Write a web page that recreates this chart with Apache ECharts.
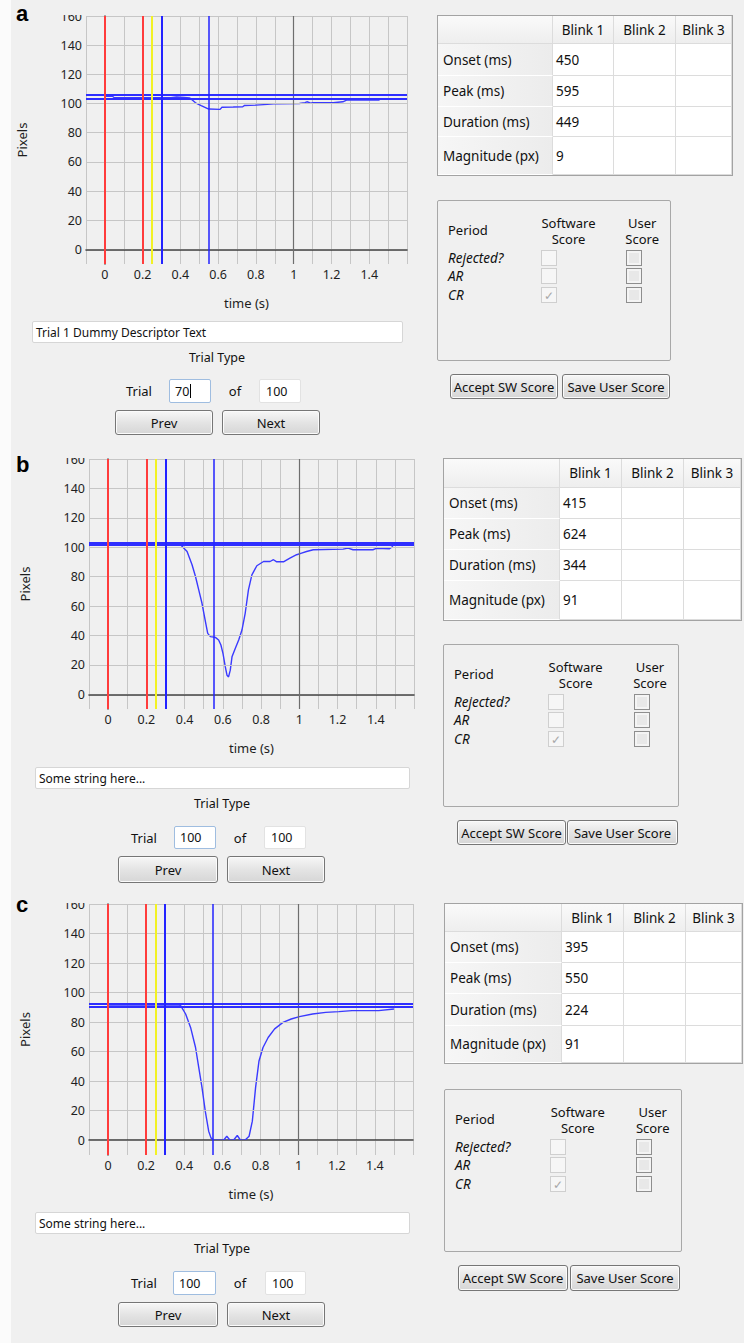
<!DOCTYPE html>
<html><head><meta charset="utf-8">
<script src="https://cdn.jsdelivr.net/npm/echarts@6/dist/echarts.min.js"></script>
<style>
html,body{margin:0;padding:0;}
body{width:744px;height:1343px;background:#f0f0f0;position:relative;overflow:hidden;font-family:'Noto Sans',sans-serif;color:#111;}
#strip{position:absolute;left:0;top:0;width:11px;height:1343px;background:#fbfbfb;}
#chart{position:absolute;left:0;top:0;width:744px;height:1343px;}
#ui{position:absolute;left:0;top:0;width:744px;height:1343px;pointer-events:none;}
.abs{position:absolute;box-sizing:border-box;white-space:nowrap;}
.lbl{font-size:13px;line-height:20px;height:20px;}
.btn{border:1px solid #767676;border-radius:3px;background:linear-gradient(#f7f7f7,#e4e4e4 50%,#d6d6d6);font-size:13px;display:flex;align-items:center;justify-content:center;box-shadow:inset 0 0 0 1px #fbfbfb;}
.field{background:#fff;border:1px solid #d6d6d6;border-radius:2px;font-size:12px;display:flex;align-items:center;padding-left:3px;}
.cell{border-right:1px solid #dcdcdc;border-bottom:1px solid #dcdcdc;font-size:13.5px;display:flex;align-items:center;}
.cb{width:16px;height:16px;font-size:12px;display:flex;align-items:center;justify-content:center;}
.cbsw{border:1px solid #cfcfcf;background:#f6f6f6;color:#a8a8a8;}
.cbuser{border:1px solid #8e8e8e;background:#e8e8e8;box-shadow:inset 0 0 0 2px #f4f4f4;}
.letter{font-family:'Liberation Sans',Arial,sans-serif;font-weight:bold;font-size:22px;line-height:22px;color:#000;}
</style></head><body>
<div id="strip"></div>
<div id="chart"></div>
<div id="ui"></div>
<script>
// ---------------- data ----------------
const panelLetters = ['a', 'b', 'c'];
const xTickLabels = [0, 0.2, 0.4, 0.6, 0.8, 1, 1.2, 1.4];
const yTickLabels = [0, 20, 40, 60, 80, 100, 120, 140, 160];
const redMarkers = [0, 0.2];
const yellowMarkers = [0.25];
const blueMarkers = [0.3, 0.55];

const baselineA = [105.8, 103.1];
const baselineB = [101.8, 102.9];
const baselineC = [90.2, 92.2];

const traceAX = [0, 0.04, 0.05, 0.35, 0.38, 0.42, 0.45, 0.48, 0.51, 0.55, 0.61, 0.62, 0.68, 0.73, 0.74, 0.80, 0.86, 0.91, 1.03, 1.06, 1.07, 1.09, 1.10, 1.21, 1.26, 1.28, 1.45, 1.46, 1.5];
const traceAY = [105, 105, 104, 104, 104.5, 104.1, 103.8, 100.5, 98.6, 96.2, 96, 97.4, 97.6, 97.8, 98.7, 98.9, 99.4, 99.9, 100.0, 100.6, 101.2, 100.3, 100.5, 100.5, 101.2, 102.4, 102.4, 103.1, 103.2];

const traceBX = [0, 0.37, 0.379, 0.413, 0.439, 0.457, 0.474, 0.491, 0.509, 0.521, 0.535, 0.561, 0.578, 0.590, 0.601, 0.613, 0.622, 0.630, 0.639, 0.648, 0.665, 0.683, 0.700, 0.717, 0.734, 0.752, 0.778, 0.813, 0.847, 0.865, 0.882, 0.917, 0.951, 0.986, 1.012, 1.038, 1.073, 1.229, 1.255, 1.281, 1.385, 1.403, 1.472, 1.49];
const traceBY = [102.3, 102.3, 101.7, 97.1, 88.1, 80.1, 71.0, 61.9, 49.4, 41.4, 39.2, 38.7, 36.9, 33.5, 27.7, 18.6, 12.9, 11.8, 16.4, 25.5, 31.2, 36.9, 43.7, 55.1, 71.0, 81.2, 87.4, 90.3, 90.3, 91.5, 90.1, 90.1, 92.6, 94.9, 96.0, 97.1, 98.3, 98.7, 99.4, 98.3, 98.3, 99.2, 99.0, 100.6];

const traceCX = [0, 0.37, 0.381, 0.407, 0.433, 0.459, 0.476, 0.493, 0.51, 0.528, 0.54, 0.554, 0.606, 0.623, 0.64, 0.658, 0.678, 0.695, 0.718, 0.74, 0.757, 0.774, 0.792, 0.813, 0.84, 0.874, 0.918, 0.961, 1.004, 1.073, 1.142, 1.211, 1.28, 1.42, 1.5];
const traceCY = [91, 91, 91.2, 85.5, 76.4, 62.8, 49.2, 35.6, 19.7, 6.1, 1.6, 0, 0, 2.7, 0, 0, 3.2, 0, 0, 2.7, 12.9, 35.6, 53.7, 62.8, 69.6, 75.4, 79.8, 82.1, 83.7, 85.5, 86.6, 87.1, 87.8, 87.8, 88.9];

const rowLabels = ['Onset (ms)', 'Peak (ms)', 'Duration (ms)', 'Magnitude (px)'];
const colLabels = ['Blink 1', 'Blink 2', 'Blink 3'];
const blink1A = [450, 595, 449, 9];
const blink1B = [415, 624, 344, 91];
const blink1C = [395, 550, 224, 91];

const periodLabels = ['Rejected?', 'AR', 'CR'];
const softwareScore = [false, false, true];
const userScore = [false, false, false];

const descriptorTexts = ['Trial 1 Dummy Descriptor Text', 'Some string here...', 'Some string here...'];
const trialNumbers = ['70', '100', '100'];
const trialTotals = ['100', '100', '100'];

// ---------------- layout ----------------
const layouts = [
  { labelTop: 3, grid: {left: 86, top: 16, width: 321, height: 248}, clip: {x: 50, y: 0, w: 36, h: 15},
    field: {x: 32, y: 321, w: 371, h: 22}, trialType: {cx: 217, cy: 358},
    trialRow: {y: 379, h: 24, trialCx: 139, box1: [169, 42], ofCx: 235, box2: [259, 42]},
    nav: {y: 410, h: 25, prev: [115, 98], next: [222, 98]},
    table: {x: 437, y: 15, cols: [115, 61, 62, 58], rows: [28, 32, 31, 30, 40]},
    group: {x: 437, y: 200, w: 234, h: 161},
    actions: {y: 374, h: 25, accept: [450, 108], save: [562, 108]} },
  { labelTop: 454, grid: {left: 89, top: 459, width: 325, height: 250}, clip: {x: 50, y: 440, w: 39, h: 18},
    field: {x: 35, y: 767, w: 375, h: 22}, trialType: {cx: 222, cy: 804},
    trialRow: {y: 826, h: 23, trialCx: 144, box1: [174, 42], ofCx: 240, box2: [264, 42]},
    nav: {y: 856, h: 27, prev: [118, 100], next: [227, 98]},
    table: {x: 443, y: 458, cols: [116, 62, 62, 59], rows: [29, 31, 31, 31, 41]},
    group: {x: 443, y: 644, w: 236, h: 163},
    actions: {y: 820, h: 25, accept: [457, 109], save: [567, 111]} },
  { labelTop: 894, grid: {left: 89, top: 904, width: 324, height: 251}, clip: {x: 50, y: 885, w: 39, h: 18},
    field: {x: 35, y: 1212, w: 375, h: 22}, trialType: {cx: 222, cy: 1249},
    trialRow: {y: 1271, h: 24, trialCx: 144, box1: [173, 43], ofCx: 240, box2: [265, 41]},
    nav: {y: 1302, h: 25, prev: [118, 100], next: [227, 98]},
    table: {x: 444, y: 903, cols: [117, 62, 62, 58], rows: [28, 31, 31, 32, 39]},
    group: {x: 444, y: 1089, w: 238, h: 163},
    actions: {y: 1265, h: 26, accept: [458, 110], save: [570, 110]} }
];

// ---------------- chart ----------------
const traces = [[traceAX, traceAY], [traceBX, traceBY], [traceCX, traceCY]];
const baselines = [baselineA, baselineB, baselineC];
const round1 = v => Math.round(v * 10) / 10;

const grids = [], xAxes = [], yAxes = [], series = [];
layouts.forEach((L, i) => {
  grids.push(Object.assign({containLabel: false}, L.grid));
  xAxes.push({
    type: 'value', gridIndex: i, min: -0.1, max: 1.6, interval: 0.1,
    axisLine: {lineStyle: {color: '#3c3c3c', width: 1.5}},
    axisTick: {show: false},
    splitLine: {show: true, lineStyle: {color: '#c6c6c6', width: 1}},
    axisLabel: {margin: 4, fontSize: 12.5, color: '#1e1e1e', fontFamily: 'Noto Sans',
      formatter: v => xTickLabels.indexOf(round1(v)) >= 0 ? String(round1(v)) : ''},
    name: 'time (s)', nameLocation: 'middle', nameGap: 32,
    nameTextStyle: {fontSize: 13, color: '#1e1e1e', fontFamily: 'Noto Sans'}
  });
  yAxes.push({
    type: 'value', gridIndex: i, min: -10, max: 160, interval: 10,
    axisLine: {show: true, lineStyle: {color: '#3c3c3c', width: 1.5}},
    axisTick: {show: false},
    splitLine: {show: false},
    axisLabel: {margin: 4, fontSize: 12.5, color: '#1e1e1e', fontFamily: 'Noto Sans',
      formatter: v => yTickLabels.indexOf(Math.round(v)) >= 0 ? String(Math.round(v)) : ''},
    name: 'Pixels', nameLocation: 'middle', nameGap: 58,
    nameTextStyle: {fontSize: 13, color: '#1e1e1e', fontFamily: 'Noto Sans'}
  });
  const mk = (data, color, width, z) => ({
    type: 'line', data: [], xAxisIndex: i, yAxisIndex: i, z: z, silent: true,
    markLine: {silent: true, symbol: ['none', 'none'], label: {show: false}, animation: false,
      emphasis: {disabled: true}, lineStyle: {type: 'solid', color: color, width: width}, data: data}
  });
  series.push(mk(yTickLabels.filter(v => v !== 0).map(v => ({yAxis: v})), '#c6c6c6', 1, 1));
  series.push(mk([{yAxis: 0}, {xAxis: 1}], '#6e6e6e', 1.2, 1));
  series.push(mk(baselines[i].map(v => ({yAxis: v})), '#2e2eff', 1.8, 2));
  series.push(mk(redMarkers.map(v => ({xAxis: v})), '#ff3c3c', 2, 3));
  series.push(mk(yellowMarkers.map(v => ({xAxis: v})), '#f2f224', 2, 3));
  series.push(mk(blueMarkers.map((v, k) => ({xAxis: v, lineStyle: {width: k === 0 ? 2 : 1.5}})), '#2323ff', 2, 3));
  series.push({
    type: 'line', xAxisIndex: i, yAxisIndex: i, z: 4, silent: true, showSymbol: false, symbol: 'none',
    lineStyle: {color: '#3a3aff', width: 1.4}, clip: true,
    data: traces[i][0].map((x, k) => [x, traces[i][1][k]])
  });
});

const chart = echarts.init(document.getElementById('chart'), null, {renderer: 'svg'});
chart.setOption({animation: false, grid: grids, xAxis: xAxes, yAxis: yAxes, series: series});

// ---------------- widgets ----------------
const ui = document.getElementById('ui');
function box(x, y, w, h, cls, text, extra) {
  const d = document.createElement('div');
  d.className = 'abs ' + (cls || '');
  d.style.left = x + 'px'; d.style.top = y + 'px';
  if (w != null) d.style.width = w + 'px';
  if (h != null) d.style.height = h + 'px';
  if (extra) Object.assign(d.style, extra);
  if (text != null) d.textContent = text;
  ui.appendChild(d);
  return d;
}
function centered(cx, cy, text, size, extra) {
  return box(cx - 100, cy - 10, 200, 20, '', text,
    Object.assign({fontSize: size + 'px', lineHeight: '20px', textAlign: 'center'}, extra || {}));
}
const blink1 = [blink1A, blink1B, blink1C];

layouts.forEach((L, i) => {
  // clipped region above plot (hides top half of the top tick label)
  box(L.clip.x, L.clip.y, L.clip.w, L.clip.h, '', null, {background: '#f0f0f0'});
  // panel letter
  box(16, L.labelTop, 30, 22, 'letter', panelLetters[i]);
  // descriptor field
  box(L.field.x, L.field.y, L.field.w, L.field.h, 'field', descriptorTexts[i]);
  centered(L.trialType.cx, L.trialType.cy, 'Trial Type', 12.5);
  // trial row
  const tr = L.trialRow;
  centered(tr.trialCx, tr.y + tr.h / 2, 'Trial', 13);
  const b1 = box(tr.box1[0], tr.y, tr.box1[1], tr.h, 'field', trialNumbers[i],
    {border: '1px solid #9fbde0', fontSize: '12.5px', paddingLeft: '5px'});
  if (i === 0) {
    const caret = document.createElement('span');
    caret.style.cssText = 'display:inline-block;width:1px;height:14px;background:#000;margin-left:1px;';
    b1.appendChild(caret);
  }
  centered(tr.ofCx, tr.y + tr.h / 2, 'of', 13);
  box(tr.box2[0], tr.y, tr.box2[1], tr.h, 'field', trialTotals[i],
    {border: '1px solid #e2e2e2', fontSize: '12.5px', paddingLeft: '6px'});
  // nav buttons
  box(L.nav.prev[0], L.nav.y, L.nav.prev[1], L.nav.h, 'btn', 'Prev');
  box(L.nav.next[0], L.nav.y, L.nav.next[1], L.nav.h, 'btn', 'Next');

  // table
  const T = L.table;
  const tw = T.cols.reduce((a, b) => a + b, 0), th = T.rows.reduce((a, b) => a + b, 0);
  box(T.x, T.y, tw, th, '', null, {border: '1px solid #a3a3a3', background: '#fff'});
  let yy = T.y + 1;
  T.rows.forEach((rh, r) => {
    let xx = T.x + 1;
    T.cols.forEach((cw, c) => {
      let text = '', style = {};
      if (r === 0) {
        text = c === 0 ? '' : colLabels[c - 1];
        style = {background: 'linear-gradient(#fafafa,#eeeeee)', justifyContent: 'center'};
      } else if (c === 0) {
        text = rowLabels[r - 1];
        style = {background: 'linear-gradient(90deg,#f6f6f6,#ececec)', paddingLeft: '5px', borderBottom: '1px solid #ffffff'};
      } else {
        text = c === 1 ? String(blink1[i][r - 1]) : '';
        style = {background: '#fff', paddingLeft: '3px'};
      }
      const w = (c === T.cols.length - 1) ? cw - 2 : cw;
      const h = (r === T.rows.length - 1) ? rh - 2 : rh;
      box(xx, yy, w, h, 'cell', text, style);
      xx += cw;
    });
    yy += rh;
  });

  // group box
  const G = L.group;
  box(G.x, G.y, G.w, G.h, '', null, {border: '1px solid #a8a8a8', borderRadius: '2px'});
  box(G.x + 11, G.y + 30 - 10, 80, 20, 'lbl', 'Period');
  const swCx = G.x + 0.562 * G.w, usCx = G.x + 0.877 * G.w;
  centered(swCx, G.y + 23, 'Software', 13);
  centered(swCx, G.y + 39, 'Score', 13);
  centered(usCx, G.y + 23, 'User', 13);
  centered(usCx, G.y + 39, 'Score', 13);
  const rowsCy = [58, 76, 95];
  periodLabels.forEach((p, k) => {
    box(G.x + 11, G.y + rowsCy[k] - 10, 90, 20, 'lbl', p, {fontStyle: 'italic', fontSize: '13.5px'});
    box(Math.round(G.x + 0.445 * G.w), G.y + rowsCy[k] - 8, null, null, 'cb cbsw', softwareScore[k] ? '\u2713' : '');
    box(Math.round(G.x + 0.808 * G.w), G.y + rowsCy[k] - 8, null, null, 'cb cbuser', userScore[k] ? '\u2713' : '');
  });

  // action buttons
  const A = L.actions;
  box(A.accept[0], A.y, A.accept[1], A.h, 'btn', 'Accept SW Score');
  box(A.save[0], A.y, A.save[1], A.h, 'btn', 'Save User Score');
});
</script>
</body></html>
